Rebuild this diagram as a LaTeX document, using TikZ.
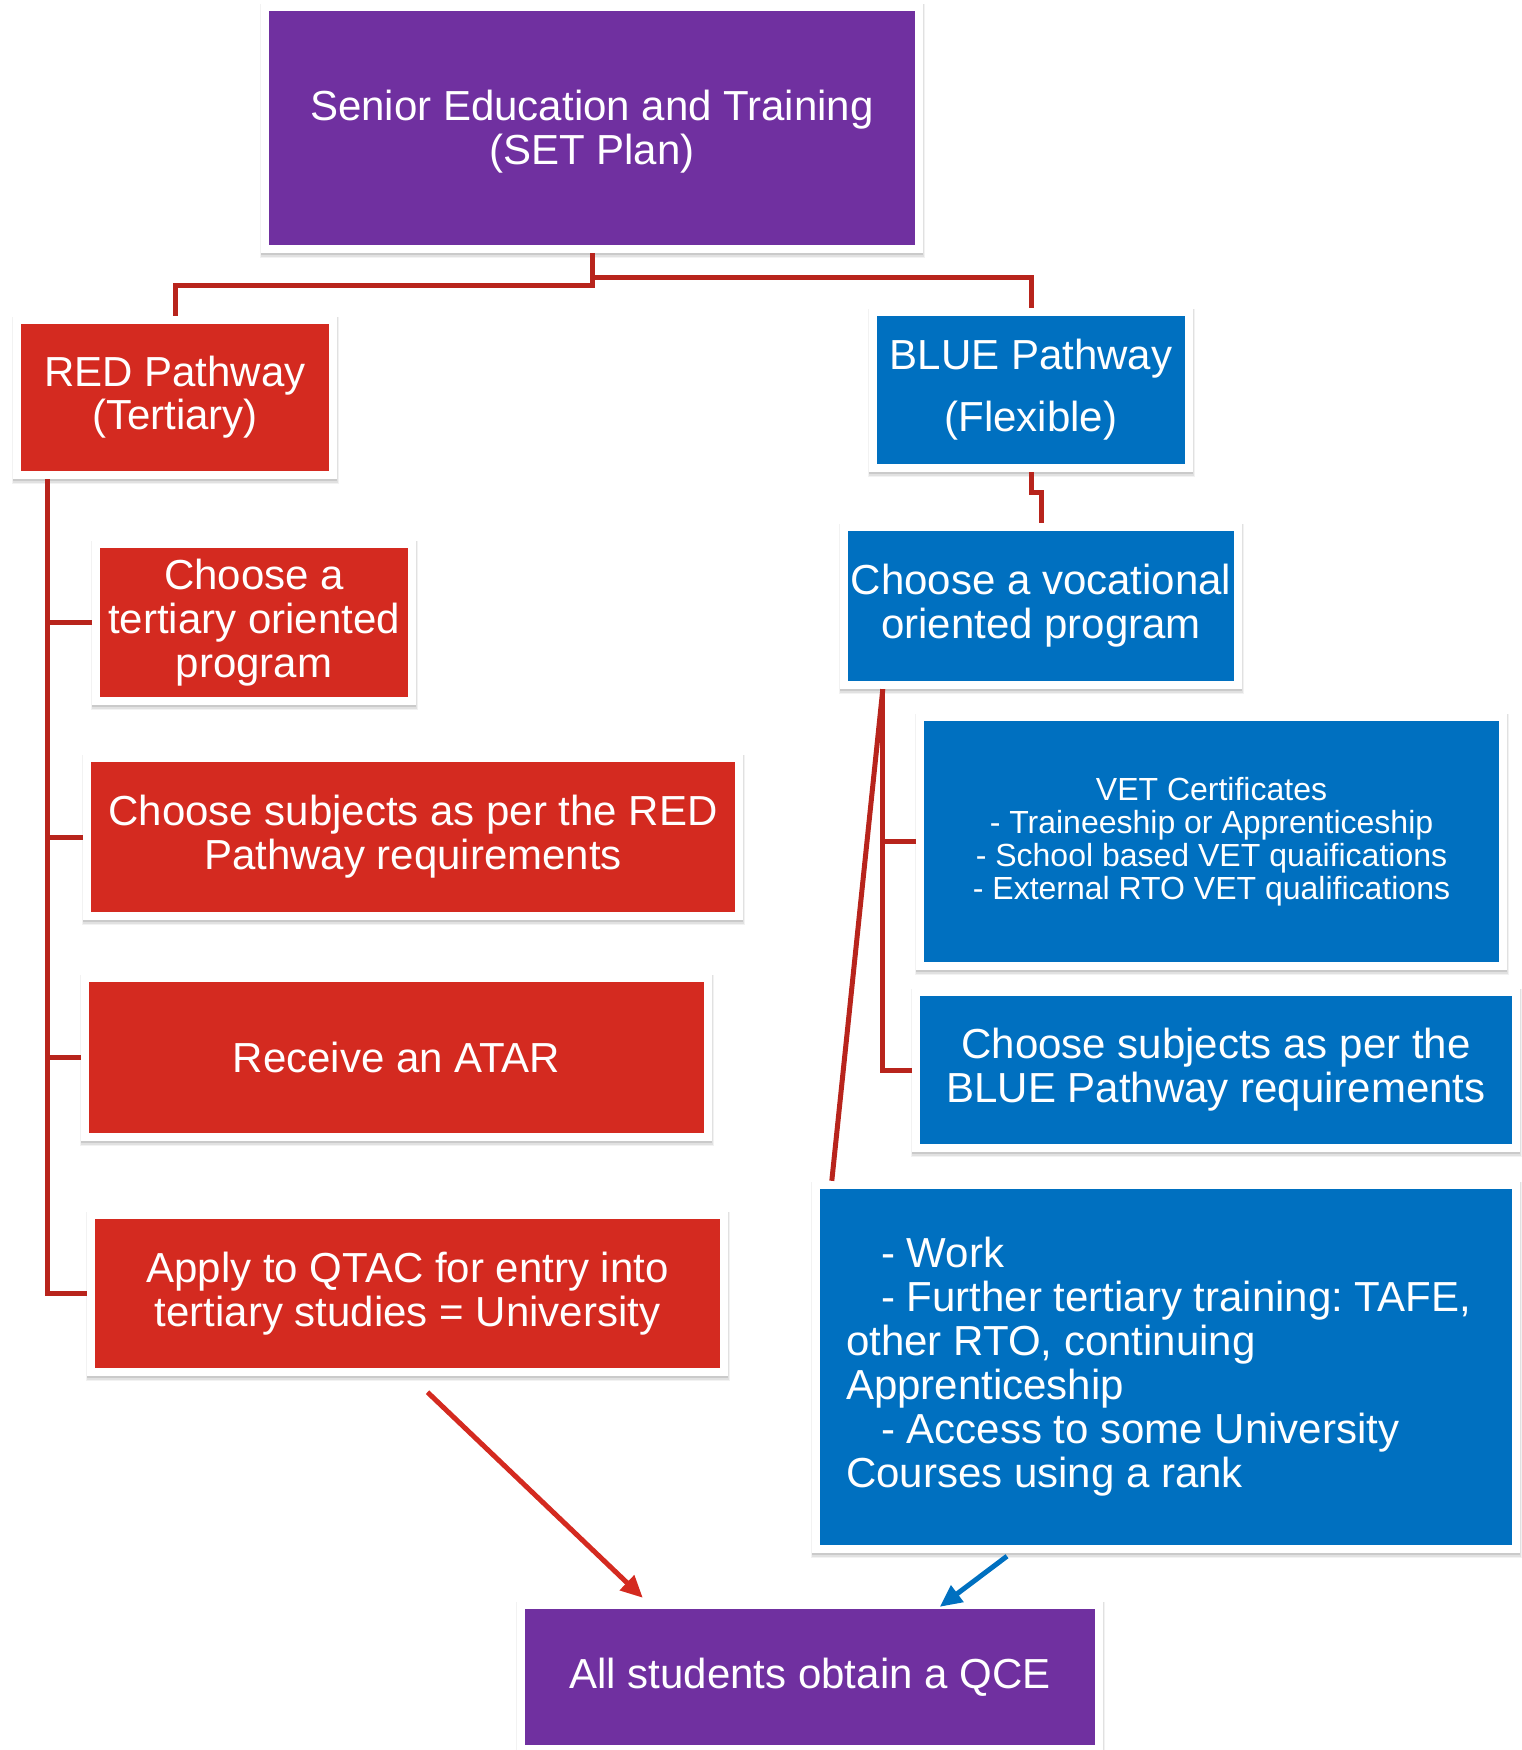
\documentclass[tikz,border=0pt]{standalone}
\usepackage{fontspec}
\setmainfont{Liberation Sans}
\usetikzlibrary{calc,arrows.meta}
\frenchspacing

\definecolor{planpurple}{HTML}{7030A0}
\definecolor{planred}{HTML}{D42A20}
\definecolor{planblue}{HTML}{0070C0}
\definecolor{linkred}{HTML}{B8241C}

\pgfdeclarelayer{background}
\pgfsetlayers{background,main}

% white mat with a soft shadow behind a coloured card
\newcommand\cardmat[1]{%
  \fill[black,opacity=0.05] ($(#1.south west)+(-9,13)$) rectangle ($(#1.north east)+(10,-7)$);
  \fill[black,opacity=0.07] ($(#1.south west)+(-8,12)$) rectangle ($(#1.north east)+(9,-7)$);
  \fill[black,opacity=0.10] ($(#1.south west)+(-8,10)$) rectangle ($(#1.north east)+(8,-7)$);
  \fill[white] ($(#1.south west)+(-8,8)$) rectangle ($(#1.north east)+(8,-8)$);
}

\tikzset{
  card/.style={rectangle, inner sep=0pt, text=white, align=center,
    font=\fontsize{42pt}{44pt}\selectfont},
  purplecard/.style={card, fill=planpurple},
  redcard/.style={card, fill=planred},
  bluecard/.style={card, fill=planblue},
  link/.style={draw=linkred, line width=5pt},
  redarrow/.style={draw=planred, line width=5pt, -{Triangle[length=22pt,width=20pt]}},
  bluearrow/.style={draw=planblue, line width=5pt, -{Triangle[length=22pt,width=20pt]}},
}

\begin{document}
\begin{tikzpicture}[x=1pt,y=-1pt]
\useasboundingbox (0,0) rectangle (1522,1750);

% top of the plan
\node[purplecard, minimum width=646pt, minimum height=234pt] (set) at (592,128)
  {\rule{0pt}{38pt}Senior Education and Training\\(SET Plan)};

% the two pathways
\node[redcard, minimum width=308pt, minimum height=147pt, font=\fontsize{42pt}{43pt}\selectfont] (red) at (175,397.5)
  {RED Pathway\\(Tertiary)};
\node[bluecard, minimum width=308pt, minimum height=148pt, font=\fontsize{42pt}{62pt}\selectfont] (blue) at (1031,390)
  {BLUE Pathway\\(Flexible)};

% RED pathway steps
\node[redcard, minimum width=308pt, minimum height=149pt] (tert) at (254,622.5)
  {Choose a\\tertiary oriented\\program};
\node[redcard, minimum width=644pt, minimum height=150pt] (rsub) at (413,837)
  {Choose subjects as per the RED\\Pathway requirements};
\node[redcard, minimum width=615pt, minimum height=151pt] (atar) at (396.5,1057.5)
  {Receive an ATAR};
\node[redcard, minimum width=625pt, minimum height=149pt] (qtac) at (407.5,1293.5)
  {Apply to QTAC for entry into\\tertiary studies = University};

% BLUE pathway steps
\node[bluecard, minimum width=386pt, minimum height=150pt] (voc) at (1041,606)
  {Choose a vocational\\oriented program};
\node[bluecard, minimum width=575pt, minimum height=241pt, font=\fontsize{32pt}{33pt}\selectfont] (vet) at (1211.5,841.5)
  {VET Certificates\\- Traineeship or Apprenticeship\\- School based VET quaifications\\- External RTO VET qualifications};
\node[bluecard, minimum width=592pt, minimum height=148pt] (bsub) at (1216,1070)
  {Choose subjects as per the\\BLUE Pathway requirements};
\node[bluecard, minimum width=692pt, minimum height=356pt, align=left] (work) at (1166,1367)
  {\hspace*{35pt}- Work\\
   \hspace*{35pt}- Further tertiary training: TAFE,\rule{15pt}{0pt}\\
   other RTO, continuing\\
   Apprenticeship\\
   \hspace*{35pt}- Access to some University\\
   Courses using a rank};

% common outcome
\node[purplecard, minimum width=570pt, minimum height=136pt] (qce) at (810,1677)
  {All students obtain a QCE};

\begin{pgfonlayer}{background}
  \foreach \c in {set,red,blue,tert,rsub,atar,qtac,voc,vet,bsub,work,qce}{\cardmat{\c}}
\end{pgfonlayer}

% split from the SET plan into the two pathways
\draw[link] ($(set.south)+(0,8)$) -- ++(0,32) -| ($(red.north)+(0,-8)$);
\draw[link] ($(set.south)+(0,8)$) -- ++(0,24) -| ($(blue.north)+(0,-8)$);

% RED pathway spine
\coordinate (rs) at ($(red.south west)+(27,8)$);
\draw[link] (rs) |- ($(qtac.west)+(-8,0)$);
\foreach \n in {tert,rsub,atar}
  \draw[link] (\n.west -| rs) -- ($(\n.west)+(-8,0)$);

% BLUE pathway
\draw[link] ($(blue.south)+(0,8)$) -- ++(0,20) -| ($(voc.north)+(0,-8)$);
\coordinate (bs) at ($(voc.south west)+(35,8)$);
\draw[link] (bs) |- ($(bsub.west)+(-8,0)$);
\draw[link] (vet.west -| bs) -- ($(vet.west)+(-8,0)$);
\draw[link] (bs) -- ($(work.north west)+(12,-8)$);

% both pathways lead to a QCE
\draw[redarrow] ($(qtac.south)+(20,24)$) -- ($(qce.north west)+(118,-11)$);
\draw[bluearrow] ($(work.south)+(-159,11)$) -- ($(qce.north west)+(415,-2)$);
\end{tikzpicture}
\end{document}
